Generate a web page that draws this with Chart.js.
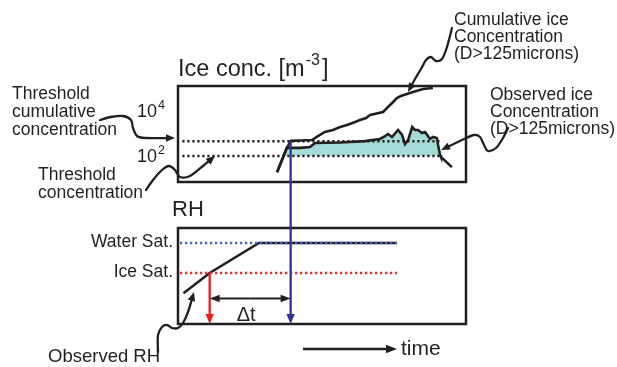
<!DOCTYPE html>
<html>
<head>
<meta charset="utf-8">
<script src="https://cdn.jsdelivr.net/npm/chart.js@4/dist/chart.umd.min.js"></script>
<style>
  html, body { margin: 0; padding: 0; background: #fff; }
  canvas { display: block; }
</style>
</head>
<body>
<canvas id="chart" width="617" height="367"></canvas>
<script>
// Time runs 0-100 (arbitrary units) across both panels.

// Cumulative ice concentration, D > 125 microns [m^-3]
const cumTime = [34.4, 37.8, 39.2, 42.4, 46.5, 48.6, 51.0, 53.8, 56.3, 58.7, 61.5, 63.2, 65.3, 66.7, 71.2, 72.9, 74.7, 76.0, 77.4, 79.5, 81.6, 85.1, 88.5];
const cumConc = [19, 230, 470, 490, 510, 770, 1170, 1430, 1940, 2390, 3240, 3980, 4890, 6640, 9030, 15100, 25100, 37800, 46400, 57000, 69900, 95100, 105000];

// Observed ice concentration, D > 125 microns [m^-3]
const obsTime = [34.4, 37.8, 42.4, 45.8, 47.6, 56.3, 64.9, 70.1, 71.9, 72.9, 74.3, 76.4, 77.8, 78.8, 79.9, 81.3, 82.3, 83.3, 84.7, 85.8, 87.5, 88.5, 89.9, 90.3, 91.0, 91.3, 95.1];
const obsConc = [19, 230, 230, 250, 380, 400, 460, 570, 770, 950, 700, 1430, 860, 340, 510, 1940, 1430, 1430, 1050, 1170, 570, 700, 630, 310, 110, 90, 32];

// Observed relative humidity (w.r.t. ice, %)
const rhTime = [1.9, 11.0, 28.1, 76.0];
const rhValues = [73, 100, 140, 140];

// Thresholds and saturation levels
const thresholdCumulative = 450;
const thresholdConc = 100;
const thresholdSpan = [1.5, 91];
const waterSat = 140;
const iceSat = 100;
const satSpan = [0.7, 76];

// Concentration axis tick labels (base, exponent)
const concTicks = [100, 10000];
const concTickLabels = [['10', '2'], ['10', '4']];

const FONT = '"Liberation Sans", Arial, Helvetica, sans-serif';
const INK = '#231f20';

const pts = (xs, ys) => xs.map((x, i) => ({ x, y: ys[i] }));
const flat = (span, v) => span.map(x => ({ x, y: v }));

// first time a series rises through a level
function crossing(ts, vs, level, useLog) {
  const f = useLog ? Math.log10 : (v => v);
  for (let i = 1; i < ts.length; i++) {
    if (vs[i - 1] < level && vs[i] >= level) {
      const r = (f(level) - f(vs[i - 1])) / (f(vs[i]) - f(vs[i - 1]));
      return ts[i - 1] + r * (ts[i] - ts[i - 1]);
    }
  }
  return null;
}
const onsetTime = crossing(rhTime, rhValues, iceSat, false);
const detectTime = crossing(cumTime, cumConc, thresholdCumulative, true);
const dtLevel = 66;

function smoothPath(ctx, p) {
  ctx.moveTo(p[0][0], p[0][1]);
  for (let i = 0; i < p.length - 1; i++) {
    const p0 = p[i - 1] || p[i], p1 = p[i], p2 = p[i + 1], p3 = p[i + 2] || p2;
    ctx.bezierCurveTo(
      p1[0] + (p2[0] - p0[0]) / 6, p1[1] + (p2[1] - p0[1]) / 6,
      p2[0] - (p3[0] - p1[0]) / 6, p2[1] - (p3[1] - p1[1]) / 6,
      p2[0], p2[1]);
  }
}
function head(ctx, tip, from, len, half) {
  const a = Math.atan2(tip[1] - from[1], tip[0] - from[0]);
  const c = Math.cos(a), s = Math.sin(a);
  ctx.beginPath();
  ctx.moveTo(tip[0], tip[1]);
  ctx.lineTo(tip[0] - len * c + half * s, tip[1] - len * s - half * c);
  ctx.lineTo(tip[0] - len * c - half * s, tip[1] - len * s + half * c);
  ctx.closePath();
  ctx.fill();
}
function arrow(ctx, from, tip, color, width, len, half) {
  const a = Math.atan2(tip[1] - from[1], tip[0] - from[0]);
  ctx.strokeStyle = color; ctx.fillStyle = color; ctx.lineWidth = width;
  ctx.beginPath();
  ctx.moveTo(from[0], from[1]);
  ctx.lineTo(tip[0] - len * 0.7 * Math.cos(a), tip[1] - len * 0.7 * Math.sin(a));
  ctx.stroke();
  head(ctx, tip, from, len, half);
}
function leader(ctx, p) {
  const tip = p[p.length - 1], prev = p[p.length - 2];
  const a = Math.atan2(tip[1] - prev[1], tip[0] - prev[0]);
  const q = p.slice(0, -1).concat([[tip[0] - 6 * Math.cos(a), tip[1] - 6 * Math.sin(a)]]);
  ctx.strokeStyle = INK; ctx.fillStyle = INK; ctx.lineWidth = 2.3;
  ctx.lineCap = 'round'; ctx.lineJoin = 'round';
  ctx.beginPath(); smoothPath(ctx, q); ctx.stroke();
  ctx.lineCap = 'butt';
  head(ctx, tip, prev, 9, 3.8);
}
function text(ctx, str, x, y, size, align) {
  ctx.font = size + 'px ' + FONT;
  ctx.textAlign = align || 'left';
  ctx.textBaseline = 'alphabetic';
  ctx.fillStyle = INK;
  ctx.fillText(str, x, y);
  return ctx.measureText(str).width;
}
function lines(ctx, arr, x, y, size, step) {
  arr.forEach((s, i) => text(ctx, s, x, y + i * step, size));
}

const schematic = {
  id: 'schematic',
  afterDraw(chart) {
    const ctx = chart.ctx;
    const area = chart.chartArea;
    const xs = chart.scales.x, cy = chart.scales.conc, ry = chart.scales.rh;
    ctx.save();

    // panel frames
    ctx.strokeStyle = INK; ctx.lineWidth = 2.5;
    ctx.strokeRect(area.left, cy.top, area.right - area.left, cy.bottom - cy.top);
    ctx.strokeRect(area.left, ry.top, area.right - area.left, ry.bottom - ry.top);

    // detection and onset markers
    const xd = xs.getPixelForValue(detectTime);
    const xo = xs.getPixelForValue(onsetTime);
    arrow(ctx, [xd, cy.getPixelForValue(thresholdCumulative)], [xd, ry.bottom], '#30319a', 2.3, 10, 4.2);
    arrow(ctx, [xo, ry.getPixelForValue(iceSat)], [xo, ry.bottom], '#ec1c24', 2.3, 10, 4.2);

    // delta t
    const yd = ry.getPixelForValue(dtLevel);
    const mid = (xo + xd) / 2;
    arrow(ctx, [mid, yd], [xo, yd], INK, 2.2, 10, 3.8);
    arrow(ctx, [mid, yd], [xd, yd], INK, 2.2, 10, 3.8);
    text(ctx, '\u0394t', mid - 4, yd + 22, 20, 'center');

    // time direction
    arrow(ctx, [303, 349], [397, 349], INK, 2.6, 11, 4.2);
    text(ctx, 'time', 401, 355, 21);

    // panel titles
    let w = text(ctx, 'Ice conc. [m', 178, 76, 23.5);
    w += text(ctx, '-3', 178 + w + 1, 65, 16) + 3;
    text(ctx, ']', 178 + w, 76, 23.5);
    text(ctx, 'RH', 172, 216, 22);

    // concentration tick labels
    concTicks.forEach((v, i) => {
      const y = cy.getPixelForValue(v) + 6;
      const bw = text(ctx, concTickLabels[i][0], 137, y, 18);
      text(ctx, concTickLabels[i][1], 137 + bw + 1, y - 8, 12.5);
    });

    // saturation labels
    text(ctx, 'Water Sat.', 173, ry.getPixelForValue(waterSat) + 4, 17.5, 'right');
    text(ctx, 'Ice Sat.', 173, ry.getPixelForValue(iceSat) + 4, 17.5, 'right');

    // callouts
    lines(ctx, ['Threshold', 'cumulative', 'concentration'], 12, 99, 17.5, 18);
    lines(ctx, ['Threshold', 'concentration'], 38, 180, 17.5, 17.5);
    lines(ctx, ['Cumulative ice', 'Concentration', '(D>125microns)'], 454, 24.5, 17.5, 17);
    lines(ctx, ['Observed ice', 'Concentration', '(D>125microns)'], 490, 100, 17.5, 17);
    text(ctx, 'Observed RH', 48, 361.5, 18.5);

    leader(ctx, [[100, 120], [111, 117], [123, 116], [131, 120], [133, 128], [137, 136], [145, 138], [175, 138]]);
    leader(ctx, [[146, 190], [153, 180], [162, 170], [169, 166], [175, 170], [180, 177], [190, 176], [203, 166], [215, 156]]);
    leader(ctx, [[452, 28], [447, 47], [442, 59], [436, 61], [431, 57], [426, 60], [421, 69], [415, 79], [408, 92]]);
    leader(ctx, [[508, 128], [503, 138], [496, 148], [488, 151], [484, 145], [480, 137], [474, 135], [462, 140], [441, 150]]);
    leader(ctx, [[158, 352], [158, 335], [162, 327], [167, 325], [172, 328], [178, 328], [183, 323], [188, 312], [194, 292]]);

    ctx.restore();
  }
};

const dotted = (color) => ({ borderColor: color, borderWidth: 2.4, borderDash: [2.2, 2.8], borderCapStyle: 'butt' });

new Chart(document.getElementById('chart'), {
  type: 'line',
  data: {
    datasets: [
      { label: 'Threshold cumulative', data: flat(thresholdSpan, thresholdCumulative), yAxisID: 'conc', ...dotted(INK) },
      { label: 'Threshold', data: flat(thresholdSpan, thresholdConc), yAxisID: 'conc', ...dotted(INK) },
      { label: 'Water Sat.', data: flat(satSpan, waterSat), yAxisID: 'rh', ...dotted('#4566c6') },
      { label: 'Ice Sat.', data: flat(satSpan, iceSat), yAxisID: 'rh', ...dotted('#ee2a2a') },
      { label: 'Cumulative ice concentration', data: pts(cumTime, cumConc), yAxisID: 'conc',
        borderColor: INK, borderWidth: 2.6 },
      { label: 'Observed ice concentration', data: pts(obsTime, obsConc), yAxisID: 'conc',
        borderColor: INK, borderWidth: 2.6,
        fill: { target: { value: thresholdConc }, above: '#a5dcd9', below: 'rgba(0,0,0,0)' } },
      { label: 'Observed RH', data: pts(rhTime, rhValues), yAxisID: 'rh',
        borderColor: INK, borderWidth: 2.6 }
    ]
  },
  options: {
    responsive: false,
    animation: false,
    devicePixelRatio: 1,
    layout: { padding: { left: 178, top: 86, right: 151, bottom: 43 } },
    elements: { point: { radius: 0 }, line: { tension: 0 } },
    plugins: { legend: { display: false }, tooltip: { enabled: false } },
    scales: {
      x: { type: 'linear', min: 0, max: 100, display: false },
      rh: { type: 'linear', min: 32, max: 160, display: false, position: 'left', stack: 'panels', stackWeight: 96 },
      gap: { type: 'linear', min: 0, max: 1, display: false, position: 'left', stack: 'panels', stackWeight: 46 },
      conc: { type: 'logarithmic', min: 6.99, max: 129155, bounds: 'data', display: false, position: 'left', stack: 'panels', stackWeight: 96 }
    }
  },
  plugins: [schematic]
});
</script>
</body>
</html>
